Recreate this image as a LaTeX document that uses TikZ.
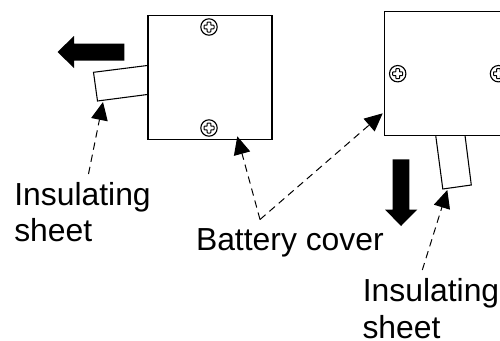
\documentclass[tikz,border=0pt]{standalone}
\usepackage{fontspec}
\setmainfont{Liberation Sans}
\usetikzlibrary{arrows.meta}
\tikzset{
  px/.style={x=0.75pt,y=-0.75pt},
  outline/.style={draw=black,line width=0.95pt,fill=white},
  sheetpart/.style={draw=black,line width=0.8pt,fill=white},
  bigarrow/.style={fill=black,draw=none},
  leader/.style={draw=black,line width=0.75pt,dash pattern=on 5.5pt off 3.8pt,-{Triangle[length=13.5pt,width=12.5pt,fill=black]}},
  lbl/.style={font=\fontsize{23.9pt}{28pt}\selectfont,anchor=base west,inner sep=0pt,outer sep=0pt},
  screwring/.style={draw=black,line width=0.85pt,fill=white,circle,minimum size=12.3pt,inner sep=0pt},
}
\newcommand{\screwcross}[1]{%
  \draw[black,line width=0.75pt,fill=white,rounded corners=0.4pt,shift={(#1)}]
   (-1.8,-5)--(1.8,-5)--(1.8,-1.8)--(5,-1.8)--(5,1.8)--(1.8,1.8)--(1.8,5)--(-1.8,5)--(-1.8,1.8)--(-5,1.8)--(-5,-1.8)--(-1.8,-1.8)--cycle;}
\begin{document}
\begin{tikzpicture}[px]
\useasboundingbox (0,0) rectangle (500,340);
% sheets
\draw[sheetpart] (147.3,65.5)--(93.5,72.3)--(97.5,101)--(147.3,94.5);
\draw[sheetpart] (435.7,135.3)--(442.8,189)--(471.3,185)--(465,135.3);
% boxes
\node[outline,rectangle,minimum width=93pt,minimum height=93.2pt,inner sep=0pt,anchor=north west] (boxL) at (147.3,14.7) {};
\draw[outline] (500.5,11.7)--(384.3,11.7)--(384.3,135.3)--(500.5,135.3);
\coordinate (boxRcorner) at (382.7,113.3);
% screws
\node[screwring] (s1) at (209,27) {}; \screwcross{209,27}
\node[screwring] (s2) at (209,128) {}; \screwcross{209,128}
\node[screwring] (s3) at (397.7,73.7) {}; \screwcross{397.7,73.7}
\node[screwring] (s4) at (498.5,73.7) {}; \screwcross{498.5,73.7}
% big arrows
\fill[bigarrow] (57.5,52)--(74,36)--(74,43.5)--(124.3,43.5)--(124.3,60.5)--(74,60.5)--(74,68)--cycle;
\fill[bigarrow] (392.7,159.3)--(409.3,159.3)--(409.3,209.5)--(417.3,209.5)--(401,226)--(385,209.5)--(392.7,209.5)--cycle;
% labels
\node[lbl] (ins1a) at (14.3,205) {Insulating};
\node[lbl] (ins1b) at (14.3,241.5) {sheet};
\node[lbl] (bat) at (196,250.7) {Battery cover};
\node[lbl] (ins2a) at (362.8,301.7) {Insulating};
\node[lbl] (ins2b) at (362.5,338) {sheet};
% leaders
\coordinate (c1) at (88.5,174);
\coordinate (t1) at (103,102);
\coordinate (c2) at (260,219.5);
\coordinate (t2) at (237.3,136.3);
\coordinate (c3) at (422.3,270);
\coordinate (t3) at (447.3,190);
\draw[leader] (c1)--(t1);
\draw[leader] (c2)--(t2);
\draw[leader] (c2)--(boxRcorner);
\draw[leader] (c3)--(t3);
\end{tikzpicture}
\end{document}
